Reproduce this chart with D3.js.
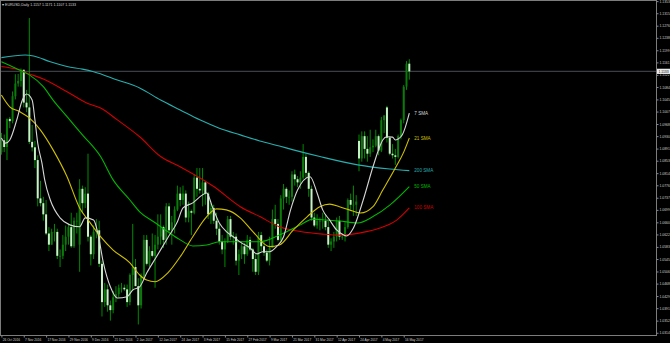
<html>
<head>
<meta charset="utf-8">
<title>EURUSD,Daily</title>
<script src="https://cdn.jsdelivr.net/npm/d3@7"></script>
<style>
  html, body { margin:0; padding:0; background:#000; }
  #chart { width:670px; height:343px; }
  text { font-family: "Liberation Sans", Arial, sans-serif; }
</style>
</head>
<body>
<div id="chart"></div>
<script>
// chart data (daily bars 26 Oct 2016 .. 18 May 2017)
var symbol = "EURUSD,Daily";
var bid = 1.1133;

var dateTicks = ["26 Oct 2016", "7 Nov 2016", "17 Nov 2016", "29 Nov 2016", "9 Dec 2016",
  "21 Dec 2016", "2 Jan 2017", "12 Jan 2017", "24 Jan 2017", "3 Feb 2017", "15 Feb 2017",
  "27 Feb 2017", "9 Mar 2017", "21 Mar 2017", "31 Mar 2017", "12 Apr 2017", "24 Apr 2017",
  "4 May 2017", "16 May 2017"];

var priceTicks = [1.1353, 1.1315, 1.1276, 1.1238, 1.1199, 1.1161, 1.1122, 1.1084, 1.1045, 1.1007,
  1.0968, 1.0930, 1.0891, 1.0853, 1.0814, 1.0776, 1.0737, 1.0699, 1.0660, 1.0622,
  1.0583, 1.0545, 1.0506, 1.0468, 1.0429, 1.0391, 1.0352, 1.0314];

var open = [
  1.0880,1.0917,1.0896,1.0984,1.0977,1.1055,1.1095,1.1103,1.1138,1.1035,
  1.1020,1.0912,1.0895,1.0855,1.0735,1.0720,1.0685,1.0625,1.0590,1.0630,
  1.0630,1.0555,1.0555,1.0590,1.0615,1.0645,1.0585,1.0665,1.0590,1.0765,
  1.0720,1.0750,1.0615,1.0560,1.0630,1.0635,1.0530,1.0410,1.0450,1.0400,
  1.0385,1.0425,1.0435,1.0455,1.0455,1.0450,1.0410,1.0495,1.0520,1.0460,
  1.0400,1.0490,1.0605,1.0530,1.0570,1.0555,1.0590,1.0615,1.0645,1.0605,
  1.0710,1.0635,1.0660,1.0700,1.0750,1.0730,1.0750,1.0675,1.0695,1.0690,
  1.0800,1.0765,1.0760,1.0785,1.0750,1.0685,1.0705,1.0665,1.0640,1.0600,
  1.0575,1.0600,1.0670,1.0615,1.0615,1.0540,1.0560,1.0585,1.0560,1.0605,
  1.0575,1.0545,1.0505,1.0620,1.0585,1.0565,1.0540,1.0580,1.0670,1.0655,
  1.0605,1.0735,1.0765,1.0740,1.0740,1.0810,1.0795,1.0785,1.0800,1.0865,
  1.0815,1.0765,1.0675,1.0650,1.0665,1.0665,1.0665,1.0645,1.0590,1.0600,
  1.0615,1.0665,1.0615,1.0615,1.0645,1.0730,1.0715,1.0715,1.0915,1.0860,
  1.0930,1.0890,1.0875,1.0895,1.0900,1.0930,1.0885,1.0980,1.1020,1.0925,
  1.0875,1.0870,1.0865,1.0930,1.0980,1.1085,1.1157];

var high = [
  1.0940,1.0935,1.0985,1.0990,1.1070,1.1124,1.1125,1.1142,1.1138,1.1075,
  1.1300,1.0965,1.0915,1.0870,1.0790,1.0740,1.0730,1.0645,1.0640,1.0655,
  1.0640,1.0575,1.0620,1.0650,1.0655,1.0690,1.0675,1.0690,1.0795,1.0775,
  1.0770,1.0875,1.0620,1.0650,1.0670,1.0665,1.0540,1.0470,1.0465,1.0415,
  1.0445,1.0460,1.0465,1.0470,1.0465,1.0465,1.0500,1.0655,1.0545,1.0485,
  1.0500,1.0620,1.0620,1.0585,1.0625,1.0620,1.0685,1.0685,1.0650,1.0720,
  1.0720,1.0680,1.0710,1.0775,1.0770,1.0775,1.0760,1.0725,1.0700,1.0810,
  1.0830,1.0830,1.0830,1.0790,1.0755,1.0720,1.0715,1.0690,1.0655,1.0620,
  1.0610,1.0680,1.0680,1.0630,1.0625,1.0575,1.0600,1.0595,1.0620,1.0615,
  1.0580,1.0560,1.0630,1.0630,1.0605,1.0575,1.0615,1.0700,1.0715,1.0670,
  1.0745,1.0780,1.0770,1.0760,1.0820,1.0825,1.0805,1.0820,1.0905,1.0875,
  1.0820,1.0775,1.0690,1.0685,1.0675,1.0690,1.0685,1.0665,1.0610,1.0630,
  1.0675,1.0680,1.0625,1.0660,1.0735,1.0750,1.0775,1.0745,1.0935,1.0945,
  1.0945,1.0930,1.0950,1.0920,1.0950,1.0935,1.0990,1.0995,1.1025,1.0930,
  1.0905,1.0890,1.0935,1.0985,1.1090,1.1165,1.1171];

var low = [
  1.0872,1.0880,1.0855,1.0955,1.0970,1.1045,1.1085,1.1085,1.1020,1.1005,
  1.0905,1.0882,1.0830,1.0710,1.0710,1.0665,1.0620,1.0570,1.0590,1.0600,
  1.0545,1.0520,1.0545,1.0570,1.0590,1.0580,1.0580,1.0625,1.0505,1.0690,
  1.0705,1.0600,1.0525,1.0545,1.0610,1.0520,1.0365,1.0395,1.0380,1.0352,
  1.0375,1.0410,1.0425,1.0440,1.0445,1.0395,1.0400,1.0450,1.0460,1.0340,
  1.0390,1.0485,1.0525,1.0520,1.0550,1.0455,1.0575,1.0590,1.0580,1.0590,
  1.0625,1.0590,1.0625,1.0695,1.0710,1.0715,1.0660,1.0660,1.0620,1.0685,
  1.0740,1.0750,1.0710,1.0715,1.0670,1.0655,1.0655,1.0620,1.0590,1.0560,
  1.0520,1.0595,1.0605,1.0590,1.0525,1.0495,1.0545,1.0530,1.0555,1.0570,
  1.0505,1.0495,1.0495,1.0570,1.0555,1.0535,1.0525,1.0580,1.0640,1.0600,
  1.0600,1.0700,1.0720,1.0715,1.0725,1.0775,1.0770,1.0765,1.0795,1.0800,
  1.0740,1.0665,1.0645,1.0640,1.0635,1.0640,1.0635,1.0580,1.0570,1.0580,
  1.0600,1.0605,1.0605,1.0600,1.0640,1.0700,1.0680,1.0680,1.0820,1.0850,
  1.0860,1.0850,1.0865,1.0880,1.0895,1.0870,1.0880,1.0940,1.0910,1.0870,
  1.0860,1.0840,1.0860,1.0920,1.0970,1.1075,1.1107];

var close = [
  1.0917,1.0896,1.0984,1.0977,1.1055,1.1095,1.1103,1.1138,1.1035,1.1020,
  1.0912,1.0895,1.0855,1.0735,1.0720,1.0685,1.0625,1.0590,1.0630,1.0630,
  1.0555,1.0555,1.0590,1.0615,1.0645,1.0585,1.0665,1.0665,1.0765,1.0720,
  1.0750,1.0615,1.0560,1.0630,1.0635,1.0530,1.0410,1.0450,1.0400,1.0385,
  1.0425,1.0435,1.0455,1.0455,1.0450,1.0410,1.0495,1.0520,1.0460,1.0400,
  1.0490,1.0605,1.0530,1.0570,1.0555,1.0590,1.0615,1.0645,1.0605,1.0710,
  1.0635,1.0660,1.0700,1.0750,1.0730,1.0750,1.0675,1.0695,1.0690,1.0800,
  1.0765,1.0760,1.0785,1.0750,1.0685,1.0705,1.0665,1.0640,1.0600,1.0575,
  1.0600,1.0670,1.0615,1.0615,1.0540,1.0560,1.0585,1.0560,1.0605,1.0575,
  1.0545,1.0505,1.0620,1.0585,1.0565,1.0540,1.0580,1.0670,1.0655,1.0605,
  1.0735,1.0765,1.0740,1.0740,1.0810,1.0795,1.0785,1.0800,1.0865,1.0815,
  1.0765,1.0675,1.0650,1.0665,1.0665,1.0665,1.0645,1.0590,1.0600,1.0615,
  1.0665,1.0615,1.0615,1.0645,1.0730,1.0715,1.0715,1.0725,1.0860,1.0930,
  1.0890,1.0875,1.0895,1.0900,1.0930,1.0885,1.0980,1.0995,1.0925,1.0875,
  1.0870,1.0865,1.0930,1.0980,1.1085,1.1157,1.1133];

// moving averages, sampled along each line (bar position, price)
var sma7Bar = [0,1.5,3,5.5,7.5,9,11,12,13,14.5,15.5,17.5,21,24.5,28,30,33,34.5,36.5,39,41.5,45,47,49.5,52,
  55.5,59.5,63,65,68.5,72,73.5,75.5,78,80.5,83,85.5,89,91.5,93.5,96,98.5,101,103.5,106,110.5,113,115,
  117.5,120,122.5,123.5,126,129.5,133,135.5,136.5,138,140,141,142,143.5,144.5,146];
var sma7 = [1.0924,1.0908,1.0918,1.0981,1.1043,1.1062,1.1043,1.0981,1.0908,1.0846,1.0793,1.0730,1.0674,
  1.0652,1.0646,1.0674,1.0667,1.0627,1.0533,1.0458,1.0423,1.0427,1.0448,1.0458,1.0501,1.0552,1.0611,
  1.0662,1.0705,1.0721,1.0746,1.0752,1.0709,1.0658,1.0631,1.0615,1.0598,1.0580,1.0561,1.0568,1.0568,
  1.0584,1.0615,1.0699,1.0761,1.0803,1.0752,1.0699,1.0667,1.0636,1.0620,1.0617,1.0642,1.0730,1.0834,
  1.0899,1.0918,1.0928,1.0927,1.0918,1.0921,1.0934,1.0956,1.1002];

var sma21Bar = [0,3,6.5,10,14,18.5,23.5,28,31.5,35.5,40,46,49.5,52,55,59.5,64,68.5,73.5,77,80.5,85.5,90,
  96,99.5,104.5,109.5,114,117.5,121,124.5,128.5,133,136.5,141,144,146];
var sma21 = [1.1059,1.1022,1.1007,1.0987,1.0949,1.0887,1.0803,1.0705,1.0662,1.0615,1.0573,1.0533,1.0495,
  1.0479,1.0474,1.0501,1.0552,1.0615,1.0678,1.0702,1.0699,1.0674,1.0631,1.0584,1.0589,1.0636,1.0678,
  1.0709,1.0717,1.0709,1.0699,1.0689,1.0709,1.0761,1.0830,1.0880,1.0924];

var sma50Bar = [0,6.5,10,15,18.5,23.5,29,35.5,40,46,49.5,54.5,59.5,64,68.5,73.5,78,83,92.5,99.5,107,
  111.5,116.5,121,127.5,133,139,146];
var sma50 = [1.1163,1.1137,1.1122,1.1085,1.1043,1.0991,1.0934,1.0866,1.0793,1.0730,1.0693,1.0662,1.0631,
  1.0605,1.0586,1.0589,1.0599,1.0599,1.0599,1.0620,1.0652,1.0670,1.0667,1.0664,1.0658,1.0678,1.0714,1.0772];

var sma100Bar = [0,6.5,10,15,23.5,30.5,35.5,41.5,49.5,57,64,76,85.5,92.5,99.5,107,115,121,128.5,135.5,141.5,146];
var sma100 = [1.1148,1.1137,1.1125,1.1109,1.1069,1.1034,1.1018,1.0981,1.0928,1.0866,1.0834,1.0772,1.0709,
  1.0678,1.0646,1.0631,1.0623,1.0620,1.0627,1.0642,1.0667,1.0705];

var sma200Bar = [0,8.5,11.5,17.5,23.5,29,33,41.5,49.5,57,64,71,78,85.5,92.5,99.5,104.5,114,127.5,139,146];
var sma200 = [1.1176,1.1184,1.1181,1.1163,1.1148,1.1140,1.1132,1.1106,1.1081,1.1043,1.1012,1.0981,1.0955,
  1.0934,1.0915,1.0899,1.0887,1.0866,1.0840,1.0827,1.0822];

// ---------------------------------------------------------------

var W = 670, H = 343, plotR = 656, plotB = 335;

var svg = d3.select('#chart').append('svg')
  .attr('width', W).attr('height', H)
  .style('background', '#000');

var x = d3.scaleLinear().domain([0, close.length - 1]).range([1.4, 409.3]);
var y = d3.scaleLinear().domain([1.0307, 1.13565]).range([plotB, 0]);

var bars = close.map(function(c, i){
  return { i: i, o: open[i], h: high[i], l: low[i], c: c };
});

// bid line
svg.append('line')
  .attr('x1', 0).attr('x2', plotR)
  .attr('y1', y(bid)).attr('y2', y(bid))
  .attr('stroke', '#3a3e43').attr('stroke-width', 1.4);

// candles
var cg = svg.append('g');
cg.selectAll('line.wick').data(bars).join('line')
  .attr('class', 'wick')
  .attr('x1', function(d){ return x(d.i) }).attr('x2', function(d){ return x(d.i) })
  .attr('y1', function(d){ return y(d.h) }).attr('y2', function(d){ return y(d.l) })
  .attr('stroke', '#009a00').attr('stroke-width', 0.9);

cg.selectAll('rect.body').data(bars).join('rect')
  .attr('class', 'body')
  .attr('x', function(d){ return x(d.i) - 1 })
  .attr('width', 2)
  .attr('y', function(d){ return y(Math.max(d.o, d.c)) })
  .attr('height', function(d){ return Math.max(0.8, Math.abs(y(d.o) - y(d.c))) })
  .attr('fill', function(d){ return d.c >= d.o ? '#0b7a0b' : '#c6f3c6' });

// moving averages
var smas = [
  { name: '200 SMA', bar: sma200Bar, val: sma200, color: '#27aeae' },
  { name: '100 SMA', bar: sma100Bar, val: sma100, color: '#d20000' },
  { name: '50 SMA',  bar: sma50Bar,  val: sma50,  color: '#00b800' },
  { name: '21 SMA',  bar: sma21Bar,  val: sma21,  color: '#cfc000' },
  { name: '7 SMA',   bar: sma7Bar,   val: sma7,   color: '#d6d6d6' }
];

var line = d3.line()
  .x(function(d){ return x(d[0]) })
  .y(function(d){ return y(d[1]) })
  .curve(d3.curveMonotoneX);

smas.forEach(function(s){
  var pts = s.bar.map(function(b, k){ return [b, s.val[k]] });
  svg.append('path')
    .attr('d', line(pts))
    .attr('fill', 'none')
    .attr('stroke', s.color)
    .attr('stroke-width', 1.1);
  svg.append('text')
    .attr('x', x(s.bar[s.bar.length - 1]) + 5)
    .attr('y', y(s.val[s.val.length - 1]) + 1.5)
    .attr('fill', s.color)
    .attr('font-size', '4.6px')
    .text(s.name);
});

// frame
svg.append('rect')
  .attr('x', 0.5).attr('y', 0.5)
  .attr('width', plotR).attr('height', plotB)
  .attr('fill', 'none').attr('stroke', '#7c7c7c').attr('stroke-width', 1);

// price axis
var yAxis = d3.axisRight(y)
  .tickValues(priceTicks)
  .tickFormat(d3.format('.4f'))
  .tickSize(2).tickSizeOuter(0).tickPadding(1);

var ya = svg.append('g')
  .attr('transform', 'translate(' + (plotR + 0.5) + ',0)')
  .call(yAxis);
ya.select('.domain').remove();
ya.selectAll('line').attr('stroke', '#8a8a8a');
ya.selectAll('text').attr('fill', '#cfcfcf').attr('font-size', '3.4px')
  .attr('font-family', '"Liberation Sans", Arial, sans-serif');

// date axis
var xAxis = d3.axisBottom(x)
  .tickValues(dateTicks.map(function(t, k){ return k * 8 }))
  .tickFormat(function(d, k){ return dateTicks[k] })
  .tickSize(2).tickSizeOuter(0).tickPadding(1.5);

var xa = svg.append('g')
  .attr('transform', 'translate(0,' + (plotB + 0.5) + ')')
  .call(xAxis);
xa.select('.domain').remove();
xa.selectAll('line').attr('stroke', '#8a8a8a');
xa.selectAll('text').attr('fill', '#cfcfcf').attr('font-size', '3.2px')
  .attr('text-anchor', 'start').attr('dx', '0.8')
  .attr('font-family', '"Liberation Sans", Arial, sans-serif');

// bid label on the price axis
svg.append('rect')
  .attr('x', plotR + 1).attr('y', y(bid) - 2.6)
  .attr('width', 13).attr('height', 5.2)
  .attr('fill', '#ececec');
svg.append('text')
  .attr('x', plotR + 2.5).attr('y', y(bid) + 1.3)
  .attr('fill', '#000').attr('font-size', '3.4px')
  .text(d3.format('.4f')(bid));

// header
var last = bars[bars.length - 1];
svg.append('text')
  .attr('x', 2).attr('y', 5.8)
  .attr('fill', '#d8d8d8').attr('font-size', '3.6px')
  .text('\u25BE ' + symbol + ' ' + [last.o, last.h, last.l, last.c].map(d3.format('.4f')).join(' '));
</script>
</body>
</html>
